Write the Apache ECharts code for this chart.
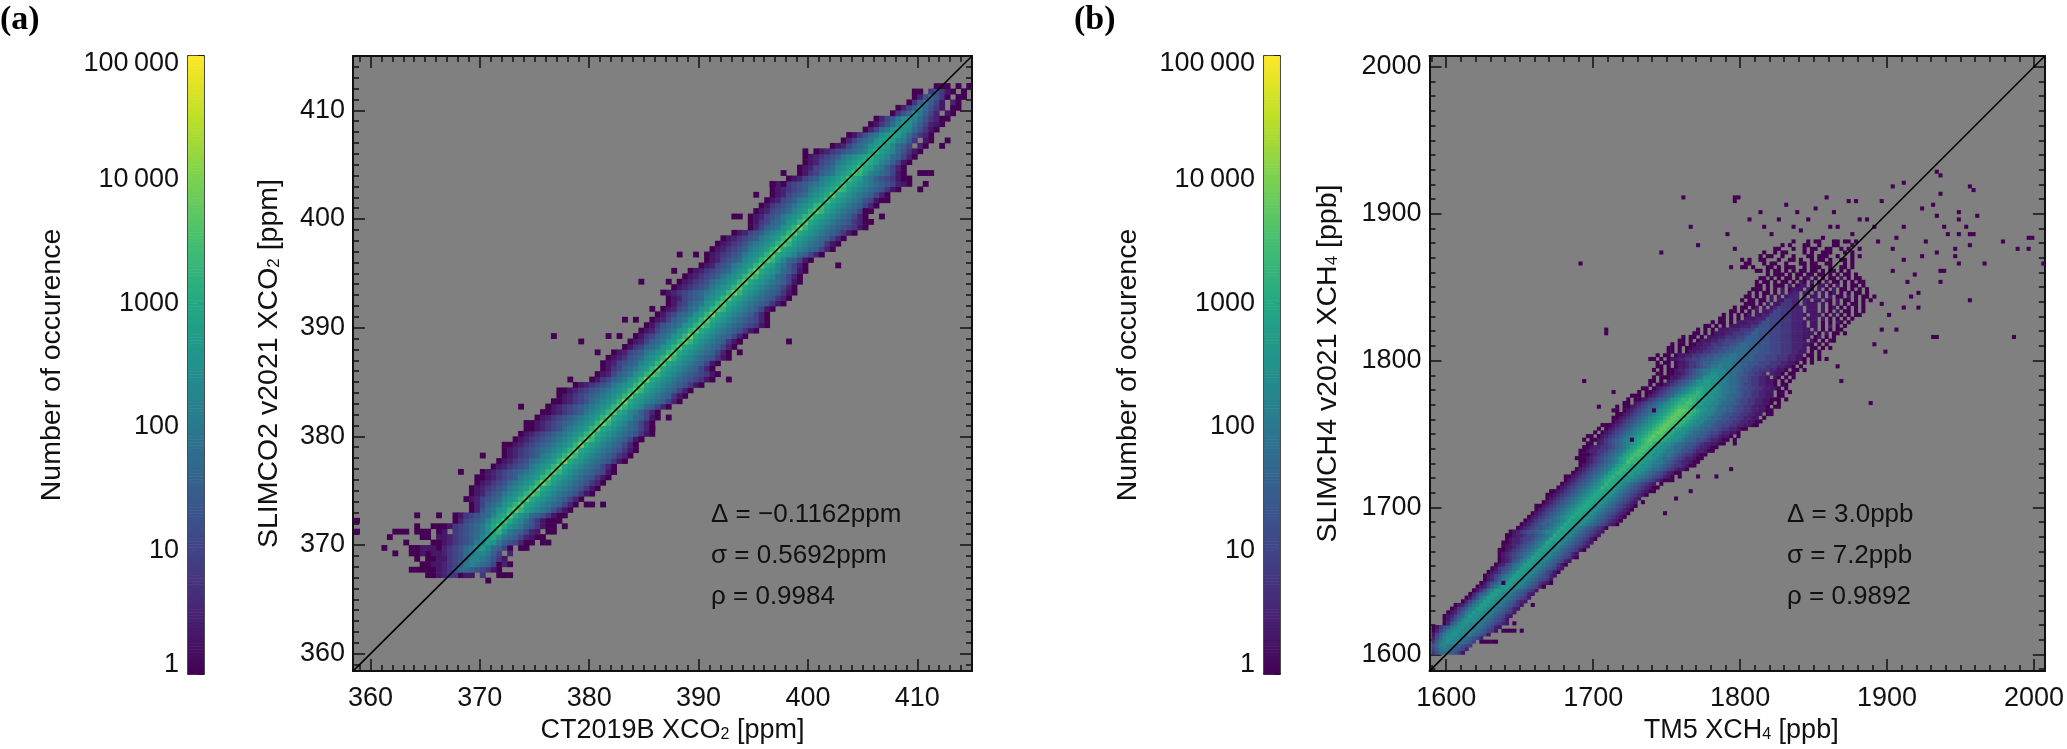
<!DOCTYPE html>
<html><head><meta charset="utf-8">
<script src="https://cdn.jsdelivr.net/npm/echarts@6/dist/echarts.min.js"></script>
<style>html,body{margin:0;padding:0;background:#fff}#c{width:2067px;height:749px}</style></head>
<body><div id="c"></div>
<script>
// Axis ranges and ticks
const rangeA = [358.4, 415.0];
const rangeB = [1588.6, 2007.4];
const majorA = [360, 370, 380, 390, 400, 410];
const majorB = [1600, 1700, 1800, 1900, 2000];
const cbTicks = [1, 10, 100, 1000, 10000, 100000];
const cbLabels = {1: '{b|1}', 10: '10', 100: '100', 1000: '1000', 10000: '10\u2009000', 100000: '{t|100\u2009000}'};
const viridis = ['#440154','#482475','#414487','#355f8d','#2a788e','#21918c','#22a884','#44bf70','#7ad151','#bddf26','#fde725'];
const notesA = ['\u0394 = \u22120.1162ppm', '\u03c3 = 0.5692ppm', '\u03c1 = 0.9984'];
const notesB = ['\u0394 = 3.0ppb', '\u03c3 = 7.2ppb', '\u03c1 = 0.9892'];

// Cell values. Each row is one y-bin: [x of ridge cell, codes left of it, codes from it on].
// A code is the colour level, log10(count) * 4 (0-9, a-k); space = empty cell.
const binA = 0.5, rowStartA = 366.5;
const rowsA = [
[370.5,"","0"],
[365,"","001233011 3  000"],
[363.5,"","00000123577654310"],
[364.5,"","00112346898764020"],
[364,"","0 001134579987531"],
[362,"","0  00101123457899864 2"],
[361,"","0    001110234578ab97640 00"],
[363,"","0    0012345689ba8654200 00"],
[361.5,"","0     00 112345679bca87642100"],
[362,"","000 000 01 345678acda876421 00"],
[371.5,"0  0001345678ac","eca98653100 0"],
[372,"0245679bc","eca97531000"],
[372.5,"0   0  01345679bc","fca97653100"],
[373,"02578abd","fdba9875310"],
[373.5,"024678abd","fcba9876420"],
[374,"01245679abd","fcba9876420"],
[374.5,"01245689abd","fdba98765310"],
[375,"012345689abd","fcba98765310"],
[375.5,"012345789abd","gdba98765320"],
[376,"0012345689abd","fcba98765310"],
[376.5,"0123456789abd","fdba98765410"],
[377,"012345689abd","fcba9876420"],
[377.5,"012345789abd","gcba98765310"],
[378,"012345689abd","fdba98765320"],
[378.5,"0123456789abd","fcba98765310"],
[379,"00123456789abd","gcba9876420"],
[379.5,"0123456789abd","fdba9876410"],
[380,"0123456789abd","fcba98765310"],
[380.5,"0012345789abd","fcba9876420"],
[381,"00123456789abd","gdba976420"],
[381.5,"0123456789abd","fcba976410"],
[382,"0012345689abd","fcb986420"],
[382.5,"0123456789abd","fdba976420"],
[383,"0012345789abd","gcba9876420"],
[383.5,"0123456789abd","fcba9876310"],
[384,"00123456789abd","fdba9876420"],
[384.5,"012345689abd","fcba98765310"],
[385,"0134678abd","gcba987654310"],
[385.5,"0124678abd","fdba987654310"],
[386,"0134678abd","fcba9876420"],
[386.5,"01245679abd","fcba9876410"],
[387,"01235679abd","gdba98765310"],
[387.5,"01245689abd","fcba9876420"],
[388,"0134678abd","fcba9876420"],
[388.5,"0124678abd","fdba9876310"],
[389,"0134678abd","gcba9876420"],
[389.5,"0124678abd","fcba98765310"],
[390,"0135678abd","fdba987654310"],
[390.5,"0124678abd","fcba98765420"],
[391,"0134678abd","gcba9876420"],
[391.5,"0124578abd","fdba9876410"],
[392,"0134678abd","fcba98765310"],
[392.5,"01245679abd","fcba98765320"],
[393,"0123456789abd","gdba98765310"],
[393.5,"012345689abd","fcba9876420"],
[394,"012345789abd","fcba9876410"],
[394.5,"012345689abd","fdba976420"],
[395,"012345679abd","gcba976410"],
[395.5,"01245689abd","fcb986420"],
[396,"01245679abd","fdb976410"],
[396.5,"012345689abd","fcba976420"],
[397,"012345689abd","gcba9876420"],
[397.5,"012345789abd","fdba9876310"],
[398,"012345689abd","fcba9876420"],
[398.5,"01245689abd","fcba98765310"],
[399,"024678abd","gdba987654310"],
[399.5,"0134678abd","fcba98765320"],
[400,"01245689abd","ecba9876420"],
[400.5,"01245679abd","fdba9876410"],
[401,"01345689abd","ecba9876420"],
[401.5,"01245689abc","ecba9875410"],
[402,"01245679abc","fcba9876420"],
[402.5,"012345689abc","edba98765310"],
[403,"0123456789abc","ecba987654210"],
[403.5,"01245689abc","ecb986543100"],
[404,"0134678abc","edb9876410"],
[404.5,"01245679abc","ecb986420"],
[405,"01245689abc","dcb986410"],
[405.5,"012345689abc","dba976420"],
[406,"0 0123456789b","dba975310"],
[406.5,"0124678ab","cb9764 20"],
[407,"024678ab","cb9863 10"],
[407.5,"013578ab","cb975320"],
[408,"02478a","ba975310"],
[408.5,"013579","ba864210"],
[409,"02468a","a9753200"],
[409.5,"0357","a8642 10"],
[410,"0246","97531 00"],
[410.5,"036","8641 20"],
[411,"025","7530 00"],
[411.5,"00 3","5310 0"],
[412,"0","00 0 0"]
];
const extraA = [
[370,378],[368,376.5],[373.5,382.5],[376,382.5],[381,373.5],[382,376.5],[379.5,373.5],[380,373.5],
[376.5,389],[379,388.5],[381.5,389],[382.5,389],[384.5,394],[388,396.5],[389.5,396.5],[387.5,395],[387,394],
[383,390.5],[384,390.5],[385.5,391.5],[380.5,387.5],[378,385],[398,388.5],[393.5,387.5],[393.5,388.5],[387,381.5],
[385.5,380.5],[384.5,379.5],[392.5,385],[395,402],[397.5,404],[396.5,403],[397.5,403],[393,400],[393.5,400],
[405.5,399.5],[406.5,400],[405,400.5],[407,401.5],[402.5,395.5],[411,404],[410,404],[410.5,404],[410.5,403],[410,402.5],
[412.5,407],[412,406.5],[414.5,412],[414,411.5],[358.5,372],[358.5,371]
];

const binB = 2.5, rowStartB = 1600;
const rowsB = [
[1597.5,"357","776531"],
[1597.5,"468","8876542"],
[1597.5,"579","98876543"],
[1600,"3689","a9987654 00000"],
[1600,"2579","aa99876542"],
[1602.5,"14689","aa998876541"],
[1605,"024689","aa9988765431 0000"],
[1607.5,"0135689","aa9988765421"],
[1610,"02579","aa99887654321"],
[1612.5,"013579","aaa998765431"],
[1615,"0124679","baa998765421"],
[1617.5,"0124689","baa998765431"],
[1620,"0134689","bba998765421"],
[1622.5,"0124689","bba998765431"],
[1625,"024689","bba998765321"],
[1627.5,"013589","bba998765431"],
[1630,"024679","bba998765421"],
[1632.5,"013589","bbaa98765431"],
[1637.5,"0124689","bbaa98765421"],
[1640,"0135689","bbaa98765321"],
[1642.5,"0124689","bbaa98765431"],
[1645,"01245789","bbaa98765421"],
[1647.5,"01235689","bbaa98764310"],
[1650,"01345689","bbaa98765421"],
[1652.5,"01245789","bbaa98765310"],
[1655,"01235689","bbaa98765421"],
[1657.5,"012345689","bbaa987654310"],
[1660,"0123456789","bbaa98765421"],
[1662.5,"00123456789","bbaa987654310"],
[1665,"01123456789","bbaa987654321"],
[1667.5,"001223456789","cbaa987654321"],
[1670,"012234456789","cbba987654310"],
[1672.5,"0012234456789","cbba987654321"],
[1675,"012345567899a","cbba987654321"],
[1677.5,"01234556789a","cbba987654320"],
[1680,"01234566789a","cbbaa9876543210"],
[1682.5,"01234567789a","cbbaa9876543210"],
[1685,"0123456789ab","cbbaa9876543210"],
[1687.5,"0123456789ab","ccbaa9876543210"],
[1690,"0123456789ab","ccbaa9876543210"],
[1692.5,"00123456789ab","ccbaa9876543210"],
[1695,"0123456789ab","ccbba987654321 0"],
[1697.5,"0123456789ab","ccbba987654321"],
[1700,"00123456789ab","ccbba9876543210"],
[1702.5,"00123456789ab","ccbba98765432100"],
[1705,"0123456789ab","dccba98765432100"],
[1707.5,"0123456789ab","dccba987654321 0"],
[1710,"0123456789bc","dccbaa987654321000"],
[1712.5,"00123456789bc","dccbaa98876543210 0"],
[1715,"0123456789bc","ddccbaa98765432100"],
[1717.5,"0123456789bc","ddcbbaa987765432110"],
[1720,"0123456789bc","ddcbbaa9887654332100"],
[1722.5,"00123456789bc","eddcbaa9887654322100"],
[1725,"000123456789bcd","eddcbba9877654322100"],
[1727.5,"000123456789bcd","eedcbaa9887654332100"],
[1730,"0012233456789bcd","eedcbaa98876554322100"],
[1732.5,"0012233456789bcd","eedcbaa98776554322100"],
[1735,"00 123456789abcd","eedcbaa987765543221100"],
[1737.5,"0 00123456789abcde","feedcbaa98776554322100 0"],
[1740,"00 0123456789abcde","feedcbaa98776654332110 0"],
[1742.5,"0 0123456789abcde","ffedcbaa987766544322110"],
[1745,"0 0123456789abcde","ffedcbaa9887665543322100"],
[1747.5,"000123456789abcde","ffeedcba998776554433221100"],
[1750,"0123456789abcde","ffeedcba998776554433221100"],
[1752.5,"00123456789abcde","ffeedcba9987765544332211 0"],
[1755,"00123456789abcde","ffeedcba9987765544332211 00"],
[1757.5,"00 0123456789abcde","ffeedcba998776654433221100"],
[1760,"0 00123456789abcde","eedcbaa99877665443322110 00"],
[1762.5,"00 123456789abcdd","eedcbaa99877665443322110 0"],
[1765,"0 0012345678abcdd","edccbaa988776544332211000 0"],
[1767.5,"000 012345679abcd","ddcbaa9987766544332211 00"],
[1770,"0 00123456789abc","dcbbaa988776544332211 00 0"],
[1772.5,"00 0123456789abc","cbbaa98877655443322110 0"],
[1775,"0 00123456789ab","bbaa9887765443322110 00"],
[1777.5,"00 0 12345678aab","baa9987765543322110 0 0"],
[1780,"0 000112345678aa","aa99877655433221 10 0 0"],
[1782.5,"00 001123456789a","a9987766544332 2110 00"],
[1785,"0 0 00122345678899","9988776554433322110 00 0"],
[1787.5,"00 0 0112334567889","88877665544433322110 0"],
[1790,"0 00 01123345667788","88776655544433322110 0 0"],
[1790,"00 0 0112233445566778","8887766655544433322110 0 0"],
[1792.5,"0 00 011223344556677","88776665554443332211 00 0"],
[1795,"00 0 0112233445566","77776665554443332211 0 0"],
[1797.5,"00 0 00112233445566","7776665554443332221 00 0 0"],
[1800,"0 00 00112233344556","77666555444333222110 0 0"],
[1802.5,"00 0 0111223344455","66665554443332221 10 0 00"],
[1805,"0 00 0 11122333445","66655544433322211 01 0 0"],
[1807.5,"00 0 01112233344","66555444333222111 0 1 00 0"],
[1810,"0 0 0 1112223334","655544433322211 1 0 0 00"],
[1812.5,"00 0 0 11122233","5554443332221 11 0 1 0 0"],
[1815,"0 00 0 1112223","554443332221 11 0 0 10 0"],
[1817.5,"00 0 0 111222","5444333222 111 1 0 0 0 0"],
[1820,"0 0 0 01 1122","4443332221 111 0 1 0 0 00"],
[1822.5,"00 0 0 1 112","44333222 111 1 0 1 00 0 0"],
[1825,"0 00 01 1 12","4333222 111 1 01 0 0 0 0"],
[1827.5,"000 0 1 11","33322 2111 1 0 1 0 00 0"],
[1830,"0 00 00 1 11","3322 21 11 10 1 00 0 0 0"],
[1832.5,"00 0 0 1 1 1","222 2 11 1 1 00 1 0 00 0"],
[1835,"0 0 00 0 1 1","22 11 1 1 01 0 0 00 0"],
[1837.5,"000 0 0 1 01","11 11 1 0 1 00 0 0 0"],
[1840,"00 0 000 1 0","11 0 11 0 1 0 00 0"],
[1842.5,"0 00 0 00 0 1","0 1 0 1 00 0 0 00"],
[1845,"00 0 0 00 0 0","1 0 0 00 1 0 00"],
[1847.5,"0 000 0 00 0","0 00 0 0 00 0"],
[1850,"00 0 00 0 0 00 0","0 0 00 0 0"],
[1850,"0  00 0   00 0 000  0 0","00  0  00 0"],
[1850,"00   0 00  0   00 0","0  00   0 0"],
[1855,"0  00   0  00 0  0 0","0 0  00 0"],
[1855,"  0 00  0  0   00 0","00  0   0 0"],
[1860,"0  0 00    0 0  00","0   0 0"],
[1860,"00   0  0 00  0","0  0 0  0"],
[1865," 0 0   00  0   0","0   0"],
[1865,"0   0 00   0","0  0 0"]
];
const extraB = [
[1797,1911],[1799.5,1911],[1797,1908.5],[1830,1906],[1838,1900],[1850,1904],[1858,1911],[1864,1901],[1873,1908],[1879,1908],[1885,1896],
[1897,1908],[1903,1919],[1911,1921],[1924,1904],[1931,1906],[1933,1928.5],[1936,1926],[1936,1914],[1933,1898.5],[1949,1901],[1961.5,1898.5],
[1949,1896],[1956,1919],[1958.5,1916],[1954,1891],[1955,1886],[1957.5,1886],[1949,1886],[1941,1886],[1939,1890],[1946.5,1877],[1956,1879],
[1946.5,1871],[1949,1866],[1937,1861],[1939.5,1861],[1936,1853.5],[1934,1873.5],[1926,1881],[1924,1871],[1966.5,1866.5],[1979,1881.5],
[1995,1884],[1997.5,1884],[1996,1876],[1989,1876],[2005,1866.5],[1986,1816.5],[1956,1841.5],[1930,1816.5],[1932.5,1816.5],[1921,1846],[1914,1854],
[1905,1884],[1911,1891],[1903,1875],[1894,1880],[1910,1868],[1918,1858],[1904,1860],[1897,1838],[1915,1843],[1911,1835],[1922,1837],[1900,1830],
[1895,1822],[1905,1820],[1892,1812],[1898,1806],[1888,1770],[1869,1785],[1858,1800],[1865,1795],
[1816,1890],[1760,1912],[1765,1890],[1745,1874],[1772,1878],[1690,1867],[1708,1818],[1708,1822],[1694,1785],[1703,1768],[1714,1778],[1725,1746],
[1742,1766],[1793,1727],[1784,1722],[1797,1743],[1772,1720],[1755,1706],[1765,1712],[1748,1697],
[1665,1647],[1672,1648],[1658,1634],[1650,1615],[1646,1620],[1638,1648],[1790,1885],[1805,1895],[1820,1885],[1835,1890],[1845,1895],[1860,1890],[1875,1885],[1880,1895],[1870,1880],
[1825,1895],[1813,1900],[1842,1888],[1855,1884],[1866,1892],[1890,1890],[1800,1868],[1795,1875]
];

function decode(rows, start, bin, extra) {
  const cells = [];
  rows.forEach(function (row, i) {
    const s = row[1] + row[2];
    const x0 = row[0] - row[1].length * bin;
    for (let j = 0; j < s.length; j++) {
      if (s[j] === ' ') continue;
      cells.push([x0 + j * bin, start + i * bin, Math.round(Math.pow(10, parseInt(s[j], 21) / 4))]);
    }
  });
  extra.forEach(function (p) {
    cells.push([Math.floor(p[0] / bin) * bin, Math.floor(p[1] / bin) * bin, 1]);
  });
  return cells;
}
function colorOf(count) {
  const t = Math.min(0.99999, Math.log10(Math.max(count, 1)) / 5) * (viridis.length - 1);
  const k = Math.floor(t), f = t - k;
  const a = echarts.color.parse(viridis[k]), b = echarts.color.parse(viridis[k + 1]);
  return 'rgb(' + [0, 1, 2].map(function (n) { return Math.round(a[n] + (b[n] - a[n]) * f); }).join(',') + ')';
}
const SANS = '"Liberation Sans", Arial, sans-serif';
const INK = '#111';
const xAxes = [], yAxes = [], grids = [], series = [], graphics = [];

function range(a, b, step) { const r = []; for (let v = a; v <= b + 1e-9; v += step) r.push(v); return r; }
function lbl() { return {show: true, fontFamily: SANS, fontSize: 27, color: INK}; }
function subRich(sz) { return {s: {fontFamily: SANS, fontSize: sz, color: INK, padding: [9, 0, 0, 0]}}; }

function panel(left, rng, major, minorStep, bin, cells, xname, yname, nameGapY, shiftX) {
  const g = grids.length;
  grids.push({left: left, top: 56, width: 619, height: 618, backgroundColor: '#808080', show: true, borderWidth: 0});
  const minor = range(Math.ceil(rng[0] / minorStep) * minorStep, rng[1], minorStep);
  const xBase = xAxes.length, yBase = yAxes.length;
  ['bottom', 'top'].forEach(function (pos, idx) {
    [[major, 12], [minor, 6]].forEach(function (t, k) {
      const main = idx === 0 && k === 0;
      xAxes.push({type: 'value', gridIndex: g, position: pos, min: rng[0], max: rng[1],
        axisLine: {show: k === 0, onZero: false, lineStyle: {color: INK, width: 2}},
        axisTick: {show: true, inside: true, customValues: t[0], length: t[1], lineStyle: {color: INK, width: 1.5}},
        axisLabel: main ? Object.assign(lbl(), {customValues: major, margin: 14, formatter: function (v) { return String(v); }}) : {show: false},
        splitLine: {show: false},
        name: main ? xname : '', nameLocation: 'middle', nameGap: 43,
        nameTextStyle: {fontFamily: SANS, fontSize: 27, color: INK, padding: [0, 0, 0, shiftX], rich: subRich(16)}});
    });
  });
  ['left', 'right'].forEach(function (pos, idx) {
    [[major, 12], [minor, 6]].forEach(function (t, k) {
      const main = idx === 0 && k === 0;
      yAxes.push({type: 'value', gridIndex: g, position: pos, min: rng[0], max: rng[1],
        axisLine: {show: k === 0, onZero: false, lineStyle: {color: INK, width: 2}},
        axisTick: {show: true, inside: true, customValues: t[0], length: t[1], lineStyle: {color: INK, width: 1.5}},
        axisLabel: main ? Object.assign(lbl(), {customValues: major, margin: 8, formatter: function (v) { return String(v); }}) : {show: false},
        splitLine: {show: false},
        name: main ? yname : '', nameLocation: 'middle', nameGap: nameGapY, nameRotate: 90,
        nameTextStyle: {fontFamily: SANS, fontSize: 28.5, color: INK, rich: subRich(17)}});
    });
  });
  series.push({type: 'custom', xAxisIndex: xBase, yAxisIndex: yBase, clip: true, z: 2, silent: true,
    data: cells, encode: {x: 0, y: 1},
    renderItem: function (params, api) {
      const x = api.value(0), y = api.value(1);
      const p = api.coord([x, y]), q = api.coord([x + bin, y + bin]);
      return {type: 'rect', shape: {x: p[0], y: q[1], width: q[0] - p[0] + 0.4, height: p[1] - q[1] + 0.4},
        style: {fill: colorOf(api.value(2))}};
    }});
  series.push({type: 'line', xAxisIndex: xBase, yAxisIndex: yBase, z: 3, silent: true, symbol: 'none', clip: true,
    data: [[rng[0], rng[0]], [rng[1], rng[1]]], lineStyle: {color: '#000', width: 1.6}});
}

function colorbar(left, name) {
  const g = grids.length;
  grids.push({left: left, top: 56, width: 16, height: 618, show: false});
  const xBase = xAxes.length, yBase = yAxes.length;
  ['bottom', 'top'].forEach(function (pos) {
    xAxes.push({type: 'value', gridIndex: g, position: pos, min: 0, max: 1,
      axisLine: {show: true, onZero: false, lineStyle: {color: INK, width: 1.5}}, axisTick: {show: false}, axisLabel: {show: false}, splitLine: {show: false}});
  });
  yAxes.push({type: 'log', gridIndex: g, position: 'left', min: 1, max: 100000,
    axisLine: {show: true, onZero: false, lineStyle: {color: INK, width: 1.5}}, axisTick: {show: false}, minorTick: {show: false}, splitLine: {show: false},
    axisLabel: Object.assign(lbl(), {margin: 9, customValues: cbTicks,
      rich: {t: {fontFamily: SANS, fontSize: 27, color: INK, padding: [15, 0, 0, 0]}, b: {fontFamily: SANS, fontSize: 27, color: INK, padding: [0, 0, 18, 0]}},
      formatter: function (v) { return cbLabels[Math.round(v)] || ''; }}),
    name: name, nameLocation: 'middle', nameGap: 121, nameRotate: 90,
    nameTextStyle: {fontFamily: SANS, fontSize: 28.5, color: INK}});
  yAxes.push({type: 'log', gridIndex: g, position: 'right', min: 1, max: 100000,
    axisLine: {show: true, onZero: false, lineStyle: {color: INK, width: 1.5}}, axisTick: {show: true, inside: true, customValues: cbTicks, length: 6, lineStyle: {color: INK, width: 1.5}},
    minorTick: {show: false}, axisLabel: {show: false}, splitLine: {show: false}});
  const steps = range(0, 199, 1);
  series.push({type: 'custom', xAxisIndex: xBase, yAxisIndex: yBase, z: 1, silent: true,
    data: steps.map(function (i) { return [Math.pow(10, i / 40), Math.pow(10, (i + 1) / 40)]; }),
    encode: {y: [0, 1]},
    renderItem: function (params, api) {
      const lo = api.value(0), hi = api.value(1);
      const p = api.coord([0, lo]), q = api.coord([1, hi]);
      return {type: 'rect', shape: {x: p[0], y: q[1], width: q[0] - p[0], height: p[1] - q[1] + 0.5},
        style: {fill: colorOf(Math.sqrt(lo * hi))}};
    }});
}

function notes(x, lines) {
  [517, 558, 599].forEach(function (y, i) {
    graphics.push({type: 'text', left: x, top: y - 15, z: 20, style: {text: lines[i], fontFamily: SANS, fontSize: 26, fill: INK}});
  });
}

colorbar(188, 'Number of occurence');
panel(353, rangeA, majorA, 1, binA, decode(rowsA, rowStartA, binA, extraA), 'CT2019B XCO{s|2} [ppm]', 'SLIMCO2 v2021 XCO{s|2} [ppm]', 69, 20);
colorbar(1264, 'Number of occurence');
panel(1429.5, rangeB, majorB, 10, binB, decode(rowsB, rowStartB, binB, extraB), 'TM5 XCH{s|4} [ppb]', 'SLIMCH4 v2021 XCH{s|4} [ppb]', 87, 8);
notes(711, notesA);
notes(1787, notesB);

const chart = echarts.init(document.getElementById('c'), null, {renderer: 'canvas'});
chart.setOption({
  animation: false, backgroundColor: '#fff',
  title: [
    {text: '(a)', left: 0, top: 3, padding: 0, textStyle: {fontFamily: '"Liberation Serif", serif', fontWeight: 'bold', fontSize: 34, color: '#000'}},
    {text: '(b)', left: 1074, top: 3, padding: 0, textStyle: {fontFamily: '"Liberation Serif", serif', fontWeight: 'bold', fontSize: 34, color: '#000'}}
  ],
  grid: grids, xAxis: xAxes, yAxis: yAxes, series: series, graphic: graphics
});
</script></body></html>
